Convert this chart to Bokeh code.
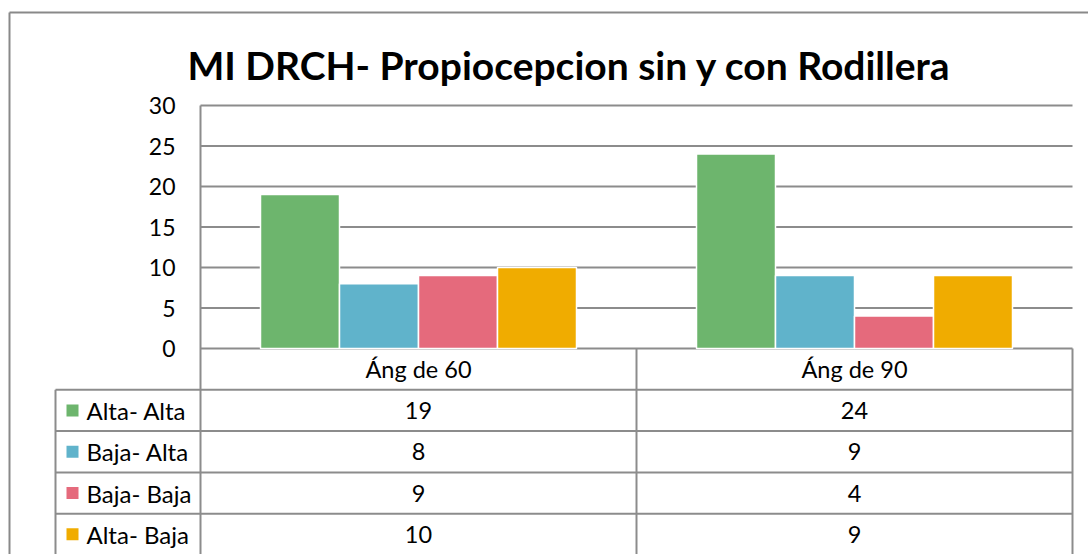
from bokeh.plotting import figure
from bokeh.models import Range1d, ColumnDataSource
from bokeh.core.properties import value
from bokeh.transform import dodge
from bokeh.embed import file_html
from bokeh.resources import INLINE

# ---------------- data ----------------
title_text = "MI DRCH- Propiocepcion sin y con Rodillera"
categories = ["Áng de 60", "Áng de 90"]
series_names = ["Alta- Alta", "Baja- Alta", "Baja- Baja", "Alta- Baja"]
alta_alta = [19, 24]
baja_alta = [8, 9]
baja_baja = [9, 4]
alta_baja = [10, 9]
y_ticks = [0, 5, 10, 15, 20, 25, 30]
y_tick_labels = ["0", "5", "10", "15", "20", "25", "30"]
colors = ["#6DB56D", "#60B3CB", "#E56A7C", "#F0AC00"]

series_values = [alta_alta, baja_alta, baja_baja, alta_baja]

# ---------------- layout constants ----------------
W, H = 1088, 554
PX_CAT = 436.0          # pixels per category
PX_Y = 8.1              # pixels per y unit
LEFT = 200              # plot-area left (figure px)
ZERO = 348              # y=0 (figure px from top)
x_start = -LEFT / PX_CAT
x_end = (W - LEFT) / PX_CAT
y_end = ZERO / PX_Y
y_start = -(H - ZERO) / PX_Y

ROW = 41.3 / PX_Y       # table row height in y units
LEG_X = -145 / PX_CAT   # left edge of legend column
GRAY = "#8C8C8C"
FONT = "Lato"
TS = "23.5px"

p = figure(width=W, height=H, x_range=Range1d(x_start, x_end),
           y_range=Range1d(y_start, y_end), output_backend="svg",
           toolbar_location=None, x_axis_location=None, y_axis_location=None,
           min_border=0)
p.grid.visible = False
p.outline_line_color = None
p.background_fill_color = "white"
p.border_fill_color = "white"

ncat = len(categories)
nser = len(series_names)

# outer chart border (left and top)
bx = (9 - LEFT) / PX_CAT
by = (ZERO - 12) / PX_Y
p.segment(x0=[bx, bx], y0=[by, by], x1=[bx, x_end + 1], y1=[y_start - 5, by],
          line_color="#898989", line_width=2)

# gridlines
p.segment(x0=[0] * len(y_ticks), x1=[ncat] * len(y_ticks), y0=y_ticks, y1=y_ticks,
          line_color=GRAY, line_width=2)

# y tick labels
p.text(x=[-25 / PX_CAT] * len(y_ticks), y=y_ticks, text=y_tick_labels,
       text_align="right", text_baseline="middle", text_font=value(FONT),
       text_font_size="23px", text_color="#000000")

# bars
slot = 79 / PX_CAT
cx = [i + 0.5 for i in range(ncat)]
data = {"cx": cx}
for k, vals in enumerate(series_values):
    data[f"s{k}"] = vals
src = ColumnDataSource(data)
for k in range(nser):
    off = (k - (nser - 1) / 2) * slot
    p.vbar(x=dodge("cx", off, range=p.x_range), top=f"s{k}", width=slot, bottom=0,
           source=src, fill_color=colors[k], line_color="white", line_width=1.5)

# table lines
row_bounds = [-ROW * (r + 1) for r in range(nser + 1)]
p.segment(x0=[LEG_X] * len(row_bounds), x1=[ncat] * len(row_bounds),
          y0=row_bounds, y1=row_bounds, line_color=GRAY, line_width=2)
# vertical lines
p.segment(x0=[0], x1=[0], y0=[30], y1=[y_start - 5], line_color=GRAY, line_width=2)
p.segment(x0=[i + 1 for i in range(ncat)], x1=[i + 1 for i in range(ncat)],
          y0=[0] * ncat, y1=[y_start - 5] * ncat, line_color=GRAY, line_width=2)
p.segment(x0=[LEG_X], x1=[LEG_X], y0=[-ROW], y1=[y_start - 5],
          line_color=GRAY, line_width=2)

# header row: categories
p.text(x=cx, y=[-ROW / 2] * ncat, text=categories, text_align="center",
       text_baseline="middle", text_font=value(FONT), text_font_size=TS,
       text_color="#000000")

# value rows
for k, vals in enumerate(series_values):
    yc = -ROW * (k + 1) - ROW / 2
    p.text(x=cx, y=[yc] * ncat, text=[str(v) for v in vals], text_align="center",
           text_baseline="middle", text_font=value(FONT), text_font_size=TS,
           text_color="#000000")

# legend column
row_centers = [-ROW * (k + 1) - ROW / 2 for k in range(nser)]
p.scatter(x=[(72 - 200) / PX_CAT] * nser, y=row_centers, marker="square", size=12,
          fill_color=colors, line_color=None)
p.text(x=[(86 - 200) / PX_CAT] * nser, y=row_centers, text=series_names,
       text_align="left", text_baseline="middle", text_font=value(FONT),
       text_font_size="24px", text_color="#000000")

# title
p.text(x=[(569 - 200) / PX_CAT], y=[(348 - 64) / PX_Y], text=[title_text],
       text_align="center", text_baseline="middle", text_font=value(FONT),
       text_font_style="bold", text_font_size="39px", text_color="#000000")

open("out.html", "w").write(file_html(p, INLINE))
